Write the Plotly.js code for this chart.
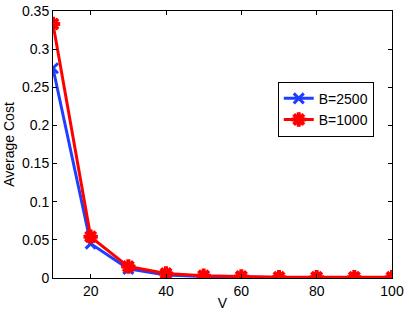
<!DOCTYPE html>
<html><head><meta charset="utf-8">
<script src="https://cdn.plot.ly/plotly-3.0.1.min.js"></script>
<style>html,body{margin:0;padding:0;background:#fff}#c{width:409px;height:313px}</style>
</head><body><div id="c"></div>
<script>
const V = [10,20,30,40,50,60,70,80,90,100];
const cost2500 = [0.275,0.045,0.012,0.004,0.002,0.001,0.0007,0.0005,0.0004,0.0003];
const cost1000 = [0.333,0.054,0.015,0.006,0.003,0.002,0.001,0.001,0.001,0.001];
const xTicks = [20,40,60,80,100];
const yTicks = [0,0.05,0.1,0.15,0.2,0.25,0.3,0.35];
const yTickText = ['0','0.05','0.1','0.15','0.2','0.25','0.3','0.35'];

const traces = [
  {x:V, y:cost2500, name:'B=2500', mode:'lines+markers',
   line:{color:'#1f3fff', width:3},
   marker:{symbol:'x-thin-open', size:10, color:'#1f3fff', line:{color:'#1f3fff', width:3}}},
  {x:V, y:cost1000, name:'B=1000', mode:'lines+markers',
   line:{color:'#ff0000', width:3},
   marker:{symbol:'asterisk-open', size:12, color:'#ff0000', line:{color:'#ff0000', width:4}}}
];
const axisCommon = {showgrid:false, zeroline:false, showline:true, linecolor:'#000', linewidth:1,
  mirror:'ticks', ticks:'inside', ticklen:4, tickcolor:'#000',
  tickfont:{family:'Liberation Sans, Arial, sans-serif', size:14, color:'#000'}};
const layout = {
  width:409, height:313,
  margin:{l:53, r:17, t:11, b:35},
  paper_bgcolor:'#fff', plot_bgcolor:'#fff',
  font:{family:'Liberation Sans, Arial, sans-serif', color:'#000'},
  xaxis:Object.assign({}, axisCommon, {range:[10,100], tickvals:xTicks,
    title:{text:'V', font:{size:14}, standoff:0}}),
  yaxis:Object.assign({}, axisCommon, {range:[0,0.35], tickvals:yTicks, ticktext:yTickText,
    title:{text:'Average Cost', font:{size:14}, standoff:4}}),
  showlegend:true,
  legend:{x:0.663, y:0.735, xanchor:'left', yanchor:'top', bgcolor:'#fff',
    bordercolor:'#000', borderwidth:1, font:{size:14, family:'Liberation Sans, Arial, sans-serif'},
    tracegroupgap:0, itemwidth:30}
};
Plotly.newPlot('c', traces, layout, {displayModeBar:false, staticPlot:true});
</script></body></html>
